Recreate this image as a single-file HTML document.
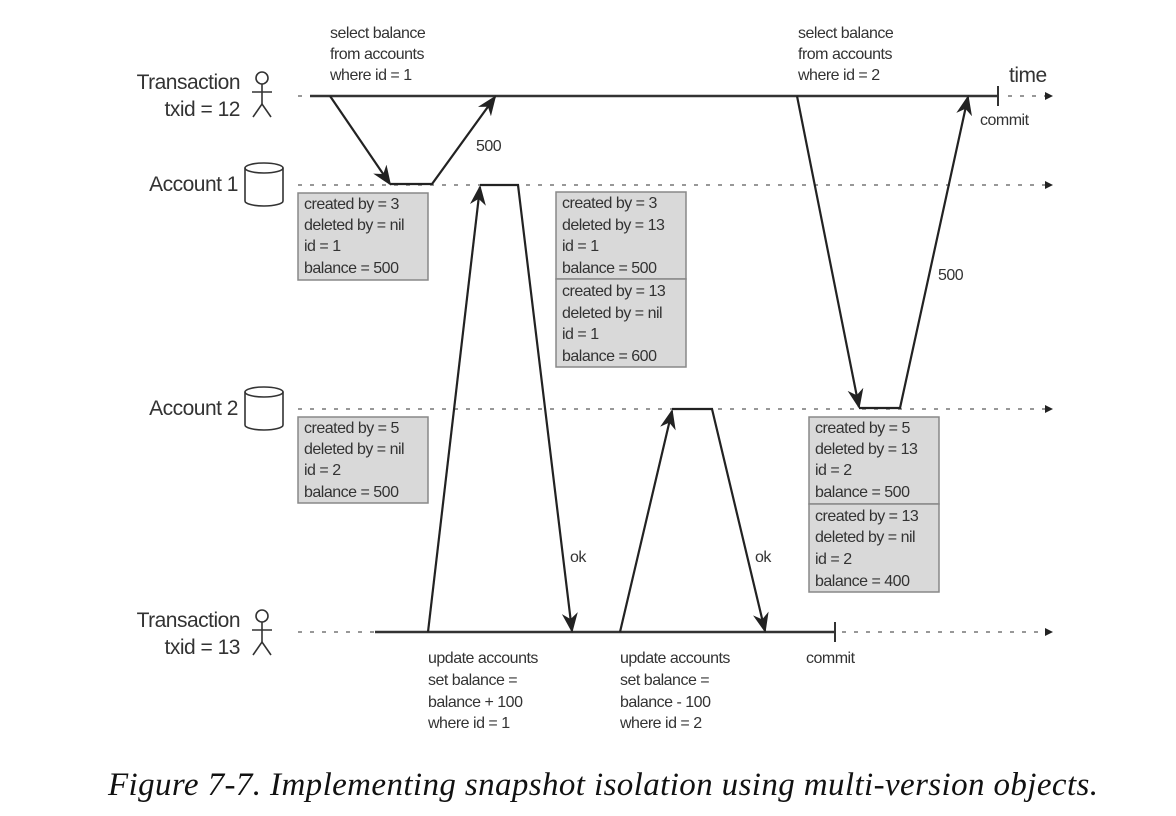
<!DOCTYPE html>
<html><head><meta charset="utf-8"><style>
html,body{margin:0;padding:0;background:#fff;}
svg{display:block;}
text{font-family:"Liberation Sans",sans-serif;fill:#333;}
.s{font-size:16px;letter-spacing:-0.5px;}
.l{font-size:21px;letter-spacing:-0.5px;}
</style></head><body>
<svg width="1176" height="816" viewBox="0 0 1176 816" xmlns="http://www.w3.org/2000/svg">
<defs>
<marker id="b" viewBox="0 0 10 10" refX="9" refY="5" markerWidth="20" markerHeight="20" orient="auto" markerUnits="userSpaceOnUse"><path d="M0,1 L10,5 L0,9 L3,5 z" fill="#222"/></marker>
</defs>
<g stroke="#777" stroke-width="1.5" stroke-dasharray="4,8" fill="none">
<line x1="298" y1="96" x2="310" y2="96"/>
<line x1="1008" y1="96" x2="1045" y2="96"/>
<line x1="298" y1="185" x2="1045" y2="185"/>
<line x1="298" y1="409" x2="1045" y2="409"/>
<line x1="298" y1="632" x2="375" y2="632"/>
<line x1="842" y1="632" x2="1045" y2="632"/>
</g>
<g fill="#222">
<path d="M1045,92 L1053,96 L1045,100 z"/><path d="M1045,181 L1053,185 L1045,189 z"/>
<path d="M1045,405 L1053,409 L1045,413 z"/><path d="M1045,628 L1053,632 L1045,636 z"/>
</g>
<g stroke="#333" stroke-width="2.5" fill="none">
<line x1="310" y1="96" x2="998" y2="96"/>
<line x1="998" y1="86" x2="998" y2="106" stroke-width="2"/>
<line x1="375" y1="632" x2="835" y2="632"/>
<line x1="835" y1="622" x2="835" y2="642" stroke-width="2"/>
</g>
<g stroke="#222" stroke-width="2.2" fill="none">
<line x1="330" y1="96" x2="390" y2="184" marker-end="url(#b)"/>
<polyline points="390,184 432,184 495,97" marker-end="url(#b)"/>
<line x1="428" y1="632" x2="480" y2="187" marker-end="url(#b)"/>
<polyline points="480,185 518,185 572,631" marker-end="url(#b)"/>
<line x1="620" y1="632" x2="672" y2="411" marker-end="url(#b)"/>
<polyline points="672,409 712,409 765,631" marker-end="url(#b)"/>
<line x1="797" y1="96" x2="859" y2="407" marker-end="url(#b)"/>
<polyline points="859,408 900,408 968,97" marker-end="url(#b)"/>
</g>
<g stroke="#333" stroke-width="1.6" fill="none">
<circle cx="262" cy="78" r="6"/><line x1="262" y1="84" x2="262" y2="104"/><line x1="252" y1="92" x2="272" y2="92"/><polyline points="253,117 262,104 271,117"/>
<circle cx="262" cy="616" r="6"/><line x1="262" y1="622" x2="262" y2="642"/><line x1="252" y1="630" x2="272" y2="630"/><polyline points="253,655 262,642 271,655"/>
<path d="M245,168 L245,201 A19,5 0 0 0 283,201 L283,168"/><ellipse cx="264" cy="168" rx="19" ry="5"/>
<path d="M245,392 L245,425 A19,5 0 0 0 283,425 L283,392"/><ellipse cx="264" cy="392" rx="19" ry="5"/>
</g>
<g class="l" text-anchor="end">
<text x="240" y="89">Transaction</text><text x="240" y="116">txid = 12</text>
<text x="238" y="191">Account 1</text><text x="238" y="415">Account 2</text>
<text x="240" y="627">Transaction</text><text x="240" y="654">txid = 13</text>
</g>
<text class="l" x="1009" y="82">time</text>
<g class="s">
<text x="330" y="38">select balance</text><text x="330" y="59">from accounts</text><text x="330" y="80">where id = 1</text>
<text x="798" y="38">select balance</text><text x="798" y="59">from accounts</text><text x="798" y="80">where id = 2</text>
<text x="980" y="125">commit</text>
<text x="476" y="151">500</text><text x="938" y="280">500</text>
<text x="570" y="562">ok</text><text x="755" y="562">ok</text>
<text x="428" y="663">update accounts</text><text x="428" y="685">set balance =</text><text x="428" y="707">balance + 100</text><text x="428" y="728">where id = 1</text>
<text x="620" y="663">update accounts</text><text x="620" y="685">set balance =</text><text x="620" y="707">balance - 100</text><text x="620" y="728">where id = 2</text>
<text x="806" y="663">commit</text>
</g>
<g fill="#d9d9d9" stroke="#888" stroke-width="1.5">
<rect x="298" y="193" width="130" height="87"/>
<rect x="556" y="192" width="130" height="87"/><rect x="556" y="279" width="130" height="88"/>
<rect x="298" y="417" width="130" height="86"/>
<rect x="809" y="417" width="130" height="87"/><rect x="809" y="504" width="130" height="88"/>
</g>
<g class="s">
<text x="304" y="209">created by = 3</text><text x="304" y="230">deleted by = nil</text><text x="304" y="251">id = 1</text><text x="304" y="273">balance = 500</text>
<text x="562" y="208">created by = 3</text><text x="562" y="230">deleted by = 13</text><text x="562" y="251">id = 1</text><text x="562" y="273">balance = 500</text>
<text x="562" y="296">created by = 13</text><text x="562" y="318">deleted by = nil</text><text x="562" y="339">id = 1</text><text x="562" y="361">balance = 600</text>
<text x="304" y="433">created by = 5</text><text x="304" y="454">deleted by = nil</text><text x="304" y="475">id = 2</text><text x="304" y="497">balance = 500</text>
<text x="815" y="433">created by = 5</text><text x="815" y="454">deleted by = 13</text><text x="815" y="475">id = 2</text><text x="815" y="497">balance = 500</text>
<text x="815" y="521">created by = 13</text><text x="815" y="542">deleted by = nil</text><text x="815" y="564">id = 2</text><text x="815" y="586">balance = 400</text>
</g>
<text x="108" y="795" textLength="990" lengthAdjust="spacing" style="font-family:'Liberation Serif',serif;font-style:italic;font-size:33px;fill:#111;">Figure 7-7. Implementing snapshot isolation using multi-version objects.</text>
</svg>
</body></html>
